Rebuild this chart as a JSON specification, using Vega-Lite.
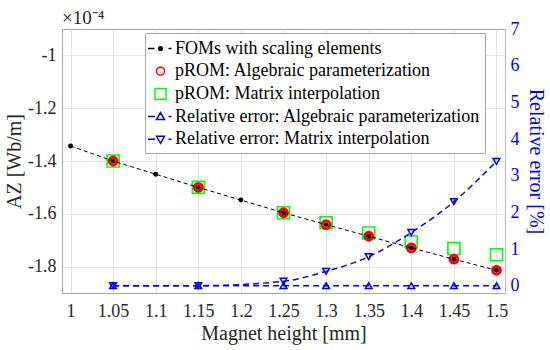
{
  "$schema": "https://vega.github.io/schema/vega-lite/v6.json",
  "width": 443,
  "height": 264,
  "autosize": {"type": "none"},
  "padding": {"left": 62, "top": 29, "right": 45, "bottom": 57},
  "background": "white",
  "config": {
    "font": "Liberation Serif",
    "view": {"stroke": "#a6a6a6", "strokeWidth": 1},
    "axis": {
      "labelFont": "Liberation Serif",
      "titleFont": "Liberation Serif",
      "labelFontSize": 18,
      "titleFontSize": 20,
      "titleFontWeight": "normal",
      "labelColor": "#262626",
      "titleColor": "#262626",
      "domainColor": "#a6a6a6",
      "gridColor": "#e3e3e3",
      "labelOverlap": false,
      "ticks": false
    }
  },
  "title": {
    "text": "×10⁻⁴",
    "anchor": "start",
    "frame": "group",
    "font": "Liberation Serif",
    "fontSize": 19,
    "fontWeight": "normal",
    "color": "#262626",
    "offset": -8
  },
  "datasets": {
    "az": [
      {"h": 1.00, "fom": -1.343, "alg": null, "mat": null},
      {"h": 1.05, "fom": -1.400, "alg": -1.400, "mat": -1.400},
      {"h": 1.10, "fom": -1.450, "alg": null, "mat": null},
      {"h": 1.15, "fom": -1.500, "alg": -1.500, "mat": -1.500},
      {"h": 1.20, "fom": -1.548, "alg": null, "mat": null},
      {"h": 1.25, "fom": -1.596, "alg": -1.596, "mat": -1.596},
      {"h": 1.30, "fom": -1.641, "alg": -1.641, "mat": -1.634},
      {"h": 1.35, "fom": -1.685, "alg": -1.685, "mat": -1.673},
      {"h": 1.40, "fom": -1.729, "alg": -1.729, "mat": -1.707},
      {"h": 1.45, "fom": -1.772, "alg": -1.772, "mat": -1.732},
      {"h": 1.50, "fom": -1.814, "alg": -1.814, "mat": -1.755}
    ],
    "err": [
      {"h": 1.05, "ea": 0, "em": 0},
      {"h": 1.15, "ea": 0, "em": 0},
      {"h": 1.25, "ea": 0, "em": 0.12},
      {"h": 1.30, "ea": 0, "em": 0.39},
      {"h": 1.35, "ea": 0, "em": 0.79},
      {"h": 1.40, "ea": 0, "em": 1.45},
      {"h": 1.45, "ea": 0, "em": 2.29},
      {"h": 1.50, "ea": 0, "em": 3.39}
    ],
    "series": [
      {"series": "FOMs with scaling elements"},
      {"series": "pROM: Algebraic parameterization"},
      {"series": "pROM: Matrix interpolation"},
      {"series": "Relative error: Algebraic parameterization"},
      {"series": "Relative error: Matrix interpolation"}
    ]
  },
  "layer": [
    {
      "data": {"name": "az"},
      "layer": [
        {
          "mark": {"type": "point", "shape": "square", "filled": false, "color": "#00ff00", "size": 144, "strokeWidth": 1.6, "opacity": 1},
          "encoding": {
            "x": {"field": "h", "type": "quantitative", "title": "Magnet height [mm]",
                  "scale": {"domain": [0.99, 1.51], "nice": false, "zero": false},
                  "axis": {"values": [1, 1.05, 1.1, 1.15, 1.2, 1.25, 1.3, 1.35, 1.4, 1.45, 1.5], "format": "~g", "grid": true, "labelFont": "Liberation Serif", "titleFont": "Liberation Serif", "labelFontSize": 18, "titleFontSize": 20, "labelPadding": 9, "titlePadding": 3, "labelOverlap": false}},
            "y": {"field": "mat", "type": "quantitative", "title": "AZ [Wb/m]",
                  "scale": {"domain": [-1.9, -0.9], "nice": false, "zero": false},
                  "axis": {"values": [-1.8, -1.6, -1.4, -1.2, -1], "format": "~g", "grid": true, "labelFont": "Liberation Serif", "titleFont": "Liberation Serif", "labelFontSize": 18, "titleFontSize": 20, "labelPadding": 6, "titlePadding": 3, "labelOverlap": false, "labelExpr": "replace(datum.label, '\u2212', '-')"}}
          }
        },
        {
          "mark": {"type": "point", "shape": "circle", "filled": false, "color": "#ff0000", "size": 64, "strokeWidth": 2.8, "opacity": 1},
          "encoding": {
            "x": {"field": "h", "type": "quantitative", "title": "Magnet height [mm]",
                  "scale": {"domain": [0.99, 1.51], "nice": false, "zero": false},
                  "axis": {"values": [1, 1.05, 1.1, 1.15, 1.2, 1.25, 1.3, 1.35, 1.4, 1.45, 1.5], "format": "~g", "grid": true, "labelFont": "Liberation Serif", "titleFont": "Liberation Serif", "labelFontSize": 18, "titleFontSize": 20, "labelPadding": 9, "titlePadding": 3, "labelOverlap": false}},
            "y": {"field": "alg", "type": "quantitative", "title": "AZ [Wb/m]",
                  "scale": {"domain": [-1.9, -0.9], "nice": false, "zero": false},
                  "axis": {"values": [-1.8, -1.6, -1.4, -1.2, -1], "format": "~g", "grid": true, "labelFont": "Liberation Serif", "titleFont": "Liberation Serif", "labelFontSize": 18, "titleFontSize": 20, "labelPadding": 6, "titlePadding": 3, "labelOverlap": false, "labelExpr": "replace(datum.label, '\u2212', '-')"}}
          }
        },
        {
          "mark": {"type": "line", "color": "black", "strokeWidth": 1, "strokeDash": [4, 3]},
          "encoding": {
            "x": {"field": "h", "type": "quantitative", "title": "Magnet height [mm]",
                  "scale": {"domain": [0.99, 1.51], "nice": false, "zero": false},
                  "axis": {"values": [1, 1.05, 1.1, 1.15, 1.2, 1.25, 1.3, 1.35, 1.4, 1.45, 1.5], "format": "~g", "grid": true, "labelFont": "Liberation Serif", "titleFont": "Liberation Serif", "labelFontSize": 18, "titleFontSize": 20, "labelPadding": 9, "titlePadding": 3, "labelOverlap": false}},
            "y": {"field": "fom", "type": "quantitative", "title": "AZ [Wb/m]",
                  "scale": {"domain": [-1.9, -0.9], "nice": false, "zero": false},
                  "axis": {"values": [-1.8, -1.6, -1.4, -1.2, -1], "format": "~g", "grid": true, "labelFont": "Liberation Serif", "titleFont": "Liberation Serif", "labelFontSize": 18, "titleFontSize": 20, "labelPadding": 6, "titlePadding": 3, "labelOverlap": false, "labelExpr": "replace(datum.label, '\u2212', '-')"}}
          }
        },
        {
          "mark": {"type": "point", "shape": "circle", "filled": true, "color": "black", "size": 24, "opacity": 1},
          "encoding": {
            "x": {"field": "h", "type": "quantitative", "title": "Magnet height [mm]",
                  "scale": {"domain": [0.99, 1.51], "nice": false, "zero": false},
                  "axis": {"values": [1, 1.05, 1.1, 1.15, 1.2, 1.25, 1.3, 1.35, 1.4, 1.45, 1.5], "format": "~g", "grid": true, "labelFont": "Liberation Serif", "titleFont": "Liberation Serif", "labelFontSize": 18, "titleFontSize": 20, "labelPadding": 9, "titlePadding": 3, "labelOverlap": false}},
            "y": {"field": "fom", "type": "quantitative", "title": "AZ [Wb/m]",
                  "scale": {"domain": [-1.9, -0.9], "nice": false, "zero": false},
                  "axis": {"values": [-1.8, -1.6, -1.4, -1.2, -1], "format": "~g", "grid": true, "labelFont": "Liberation Serif", "titleFont": "Liberation Serif", "labelFontSize": 18, "titleFontSize": 20, "labelPadding": 6, "titlePadding": 3, "labelOverlap": false, "labelExpr": "replace(datum.label, '\u2212', '-')"}}
          }
        },
        {
          "data": {"name": "series"},
          "mark": {"type": "point", "filled": false, "opacity": 0},
          "encoding": {
            "color": {"field": "series", "type": "nominal",
              "scale": {"domain": ["FOMs with scaling elements", "pROM: Algebraic parameterization", "pROM: Matrix interpolation", "Relative error: Algebraic parameterization", "Relative error: Matrix interpolation"],
                        "range": ["#000000", "#ff0000", "#00ff00", "#0000ff", "#0000ff"]},
              "legend": {"title": null, "orient": "none", "legendX": 83, "legendY": 4,
                "padding": 4.5, "fillColor": "white", "strokeColor": "#a6a6a6",
                "labelFont": "Liberation Serif", "labelFontSize": 18, "labelColor": "#000000", "labelOffset": 3.5, "labelLimit": 400,
                "symbolSize": 400, "symbolStrokeWidth": 1.5, "symbolOpacity": 1, "rowPadding": 2.7,
                "encode": {"symbols": {"update": {"opacity": {"value": 1}}}}}},
            "shape": {"field": "series", "type": "nominal",
              "scale": {"domain": ["FOMs with scaling elements", "pROM: Algebraic parameterization", "pROM: Matrix interpolation", "Relative error: Algebraic parameterization", "Relative error: Matrix interpolation"],
                        "range": [
                          "M-1.25,0H-0.6M0.18,0A0.18,0.18 0 1 1 -0.18,0A0.18,0.18 0 1 1 0.18,0M0.08,0A0.08,0.08 0 1 1 -0.08,0A0.08,0.08 0 1 1 0.08,0M0.8,0H1.1",
                          "M0.4,0A0.4,0.4 0 1 1 -0.4,0A0.4,0.4 0 1 1 0.4,0",
                          "M-0.55,-0.55H0.55V0.55H-0.55Z",
                          "M-1.25,0H-0.55M0,-0.4L0.4,0.3L-0.4,0.3ZM0.8,0H1.1",
                          "M-1.25,0H-0.55M0,0.4L0.4,-0.3L-0.4,-0.3ZM0.8,0H1.1"
                        ]},
              "legend": {"title": null, "orient": "none", "legendX": 83, "legendY": 4,
                "padding": 4.5, "fillColor": "white", "strokeColor": "#a6a6a6",
                "labelFont": "Liberation Serif", "labelFontSize": 18, "labelColor": "#000000", "labelOffset": 3.5, "labelLimit": 400,
                "symbolSize": 400, "symbolStrokeWidth": 1.5, "symbolOpacity": 1, "rowPadding": 2.7,
                "encode": {"symbols": {"update": {"opacity": {"value": 1}}}}}}
          }
        }
      ]
    },
    {
      "data": {"name": "err"},
      "layer": [
        {
          "mark": {"type": "line", "color": "#0000ff", "strokeWidth": 1.5, "strokeDash": [6, 4], "interpolate": "monotone"},
          "encoding": {
            "x": {"field": "h", "type": "quantitative", "title": "Magnet height [mm]", "scale": {"domain": [0.99, 1.51], "nice": false, "zero": false}},
            "y": {"field": "em", "type": "quantitative", "title": "Relative error [%]",
                  "scale": {"domain": [-0.2, 7], "nice": false, "zero": false},
                  "axis": {"orient": "right", "values": [0, 1, 2, 3, 4, 5, 6, 7], "grid": false, "labelFont": "Liberation Serif", "titleFont": "Liberation Serif", "labelFontSize": 18, "titleFontSize": 20, "labelColor": "#0000ff", "titleColor": "#0000ff", "domainColor": "#b3b3ff", "labelPadding": 5, "titlePadding": 6, "labelOverlap": false}}
          }
        },
        {
          "mark": {"type": "line", "color": "#0000ff", "strokeWidth": 1.5, "strokeDash": [6, 4]},
          "encoding": {
            "x": {"field": "h", "type": "quantitative", "title": "Magnet height [mm]", "scale": {"domain": [0.99, 1.51], "nice": false, "zero": false}},
            "y": {"field": "ea", "type": "quantitative", "title": "Relative error [%]",
                  "scale": {"domain": [-0.2, 7], "nice": false, "zero": false},
                  "axis": {"orient": "right", "values": [0, 1, 2, 3, 4, 5, 6, 7], "grid": false, "labelFont": "Liberation Serif", "titleFont": "Liberation Serif", "labelFontSize": 18, "titleFontSize": 20, "labelColor": "#0000ff", "titleColor": "#0000ff", "domainColor": "#b3b3ff", "labelPadding": 5, "titlePadding": 6, "labelOverlap": false}}
          }
        },
        {
          "mark": {"type": "point", "shape": "triangle-down", "filled": false, "color": "#0000ff", "size": 45, "strokeWidth": 1.5, "opacity": 1},
          "encoding": {
            "x": {"field": "h", "type": "quantitative", "title": "Magnet height [mm]", "scale": {"domain": [0.99, 1.51], "nice": false, "zero": false}},
            "y": {"field": "em", "type": "quantitative", "title": "Relative error [%]",
                  "scale": {"domain": [-0.2, 7], "nice": false, "zero": false},
                  "axis": {"orient": "right", "values": [0, 1, 2, 3, 4, 5, 6, 7], "grid": false, "labelFont": "Liberation Serif", "titleFont": "Liberation Serif", "labelFontSize": 18, "titleFontSize": 20, "labelColor": "#0000ff", "titleColor": "#0000ff", "domainColor": "#b3b3ff", "labelPadding": 5, "titlePadding": 6, "labelOverlap": false}}
          }
        },
        {
          "mark": {"type": "point", "shape": "triangle-up", "filled": false, "color": "#0000ff", "size": 45, "strokeWidth": 1.5, "opacity": 1},
          "encoding": {
            "x": {"field": "h", "type": "quantitative", "title": "Magnet height [mm]", "scale": {"domain": [0.99, 1.51], "nice": false, "zero": false}},
            "y": {"field": "ea", "type": "quantitative", "title": "Relative error [%]",
                  "scale": {"domain": [-0.2, 7], "nice": false, "zero": false},
                  "axis": {"orient": "right", "values": [0, 1, 2, 3, 4, 5, 6, 7], "grid": false, "labelFont": "Liberation Serif", "titleFont": "Liberation Serif", "labelFontSize": 18, "titleFontSize": 20, "labelColor": "#0000ff", "titleColor": "#0000ff", "domainColor": "#b3b3ff", "labelPadding": 5, "titlePadding": 6, "labelOverlap": false}}
          }
        }
      ]
    }
  ],
  "resolve": {"scale": {"y": "independent"}}
}
